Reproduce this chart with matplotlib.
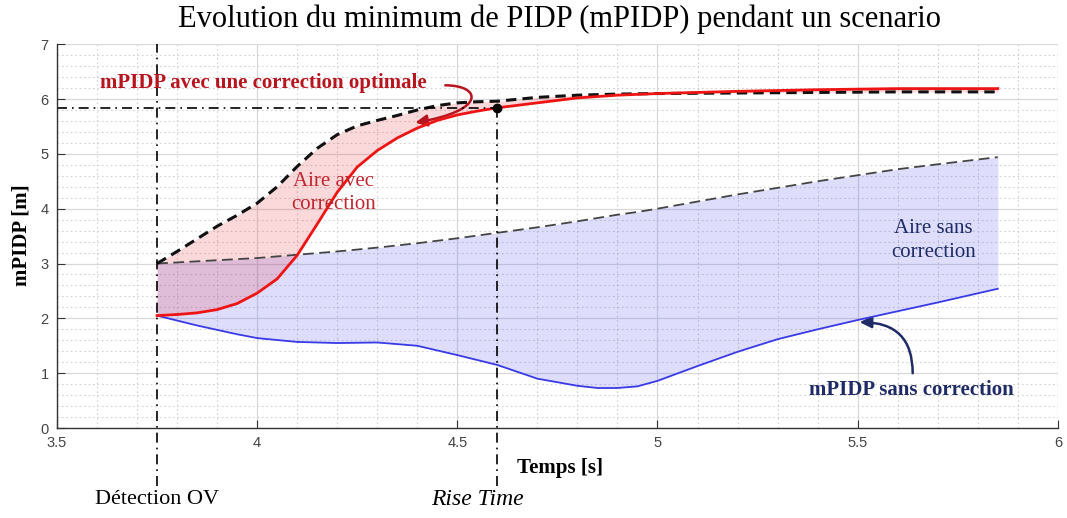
import matplotlib
matplotlib.use("Agg")
import matplotlib.pyplot as plt
from matplotlib.patches import FancyArrowPatch
from matplotlib.path import Path
from matplotlib.ticker import MultipleLocator

# time base for the corrected trajectory and its optimal reference
t_opt = [3.75, 3.80, 3.85, 3.90, 3.95, 4.00, 4.05, 4.10, 4.15, 4.20, 4.25, 4.30, 4.35,
         4.40, 4.45, 4.50, 4.55, 4.60, 4.70, 4.80, 4.90, 5.00, 5.20, 5.40, 5.60, 5.85]
mpidp_corr = [2.05, 2.07, 2.10, 2.16, 2.27, 2.46, 2.72, 3.15, 3.72, 4.30, 4.76, 5.06, 5.29,
              5.47, 5.61, 5.71, 5.78, 5.84, 5.93, 6.02, 6.07, 6.10, 6.14, 6.17, 6.19, 6.19]
mpidp_opt = [3.00, 3.22, 3.45, 3.68, 3.88, 4.10, 4.40, 4.77, 5.10, 5.35, 5.51, 5.61, 5.70,
             5.80, 5.88, 5.93, 5.95, 5.96, 6.03, 6.07, 6.09, 6.10, 6.11, 6.12, 6.13, 6.13]

# time base for the uncorrected trajectory and its reference
t_ref = [3.75, 3.80, 3.85, 3.90, 3.95, 4.00, 4.10, 4.20, 4.30, 4.40, 4.50, 4.60, 4.70,
         4.80, 4.85, 4.90, 4.95, 5.00, 5.10, 5.20, 5.30, 5.40, 5.50, 5.60, 5.70, 5.85]
mpidp_sans = [2.05, 1.96, 1.87, 1.79, 1.71, 1.64, 1.57, 1.55, 1.56, 1.50, 1.33, 1.15, 0.90,
              0.77, 0.73, 0.73, 0.76, 0.86, 1.13, 1.39, 1.62, 1.80, 1.97, 2.13, 2.29, 2.54]
mpidp_ref = [3.00, 3.02, 3.04, 3.06, 3.08, 3.10, 3.16, 3.22, 3.29, 3.37, 3.46, 3.56, 3.66,
             3.77, 3.83, 3.89, 3.94, 4.00, 4.13, 4.26, 4.38, 4.50, 4.61, 4.72, 4.81, 4.94]

t_detect = 3.75
t_rise = 4.60
y_rise = 5.84

xticks = [3.5, 4, 4.5, 5, 5.5, 6]
xticklabels = ["3.5", "4", "4.5", "5", "5.5", "6"]
yticks = [0, 1, 2, 3, 4, 5, 6, 7]

SERIF = "Liberation Serif"
RED_TXT = "#b8141e"
NAVY = "#1f2b66"

fig = plt.figure(figsize=(10.67, 5.18), dpi=100)
ax = fig.add_axes([0.0534, 0.1737, 0.938, 0.741])

# fills
ax.fill_between(t_ref, mpidp_sans, mpidp_ref, color="#3c3cf0", alpha=0.17, lw=0)
ax.fill_between(t_opt, mpidp_corr, mpidp_opt, color="#e8202a", alpha=0.17, lw=0)

# curves
ax.plot(t_ref, mpidp_ref, color="#444444", lw=1.3, dashes=(6, 3))
ax.plot(t_ref, mpidp_sans, color="#3a3ae6", lw=1.3)
ax.plot(t_opt, mpidp_opt, color="#111111", lw=2.2, dashes=(3.4, 2))
ax.plot(t_opt, mpidp_corr, color="#ee1414", lw=2.0)

# detection / rise time markers
dashdot = (0, (6, 3, 1, 3))
ax.plot([t_detect, t_detect], [-1.05, 7], color="black", lw=1.2, linestyle=dashdot,
        clip_on=False)
ax.plot([t_rise, t_rise], [-1.05, y_rise], color="black", lw=1.2, linestyle=dashdot,
        clip_on=False)
ax.plot([3.5, t_rise], [y_rise, y_rise], color="black", lw=1.2, linestyle=dashdot)
ax.plot([t_rise], [y_rise], "o", color="black", ms=6, zorder=5)

# axes styling
ax.set_xlim(3.5, 6)
ax.set_ylim(0, 7)
ax.set_xticks(xticks)
ax.set_xticklabels(xticklabels)
ax.set_yticks(yticks)
ax.xaxis.set_minor_locator(MultipleLocator(0.1))
ax.yaxis.set_minor_locator(MultipleLocator(0.2))
ax.grid(which="major", color="#d8d8d8", lw=0.9)
ax.grid(which="minor", color="#d2d2d2", lw=0.8, linestyle=(0, (1.5, 2.5)))
ax.set_axisbelow(True)
for s in ("top", "right"):
    ax.spines[s].set_visible(False)
for s in ("left", "bottom"):
    ax.spines[s].set_color("#333333")
    ax.spines[s].set_linewidth(1.0)
ax.tick_params(which="major", direction="in", length=6, color="#333333",
               labelcolor="#444444", labelsize=10.5, pad=6)
ax.tick_params(which="minor", length=0)
for lab in ax.get_xticklabels() + ax.get_yticklabels():
    lab.set_family("Liberation Sans")

# annotations
ax.text(3.6075, 6.30, "mPIDP avec une correction optimale", color=RED_TXT,
        fontsize=15, fontweight="bold", family=SERIF, ha="left", va="center")
curl = Path([(4.47, 6.25), (4.56, 6.25), (4.575, 5.79), (4.395, 5.57)],
            [Path.MOVETO, Path.CURVE4, Path.CURVE4, Path.CURVE4])
ax.add_patch(FancyArrowPatch(path=curl, arrowstyle="-|>,head_length=7,head_width=3.5",
                             color=RED_TXT, lw=1.8))
ax.text(4.19, 4.28, "Aire avec\ncorrection", color="#c0262e", fontsize=15,
        family=SERIF, ha="center", va="center", linespacing=1.3)
ax.text(5.69, 3.42, "Aire sans\ncorrection", color=NAVY, fontsize=15,
        family=SERIF, ha="center", va="center", linespacing=1.3)
ax.text(5.635, 0.69, "mPIDP sans correction", color=NAVY, fontsize=15,
        fontweight="bold", family=SERIF, ha="center", va="center")
ax.add_patch(FancyArrowPatch((5.6375, 1.0), (5.505, 1.93),
                             connectionstyle="angle3,angleA=90,angleB=0",
                             arrowstyle="-|>,head_length=7,head_width=3.5",
                             color=NAVY, lw=1.8, shrinkA=0, shrinkB=0))

# labels
ax.text(4.757, -0.73, "Temps [s]", fontsize=15, fontweight="bold", family=SERIF,
        ha="center", va="center")
ax.text(t_detect, -1.31, "Détection OV", fontsize=16, family=SERIF,
        ha="center", va="center")
ax.text(4.55, -1.31, "Rise Time", fontsize=17, family=SERIF, style="italic",
        ha="center", va="center")
fig.text(0.0206, 0.546, "mPIDP [m]", rotation=90, fontsize=15, fontweight="bold",
         family=SERIF, ha="center", va="center")
fig.text(0.524, 0.962, "Evolution du minimum de PIDP (mPIDP) pendant un scenario",
         fontsize=22, family=SERIF, ha="center", va="center")

fig.savefig("out.png", dpi=100)
